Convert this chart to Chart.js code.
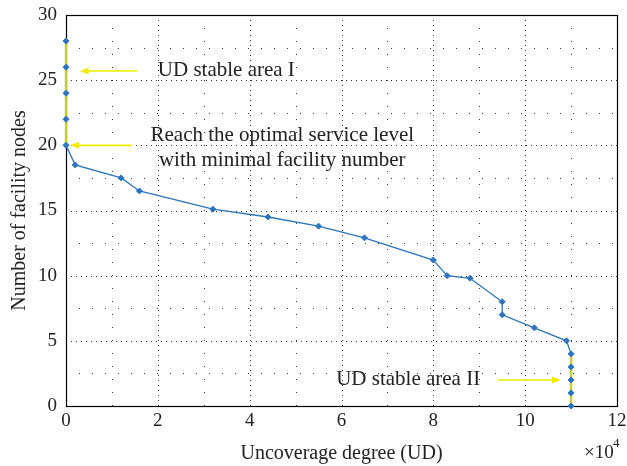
<!DOCTYPE html>
<html>
<head>
<meta charset="utf-8">
<script src="https://cdn.jsdelivr.net/npm/chart.js@4"></script>
<style>
  body { margin: 0; background: #fff; }
  #wrap { width: 627px; height: 466px; }
</style>
</head>
<body>
<div id="wrap"><canvas id="myChart" width="627" height="466"></canvas></div>
<script>
// datos (x en unidades de 10^4)
const udValues = [0, 0, 0, 0, 0, 0.2, 1.2, 1.6, 3.2, 4.4, 5.5, 6.5, 8.0, 8.3, 8.8, 9.5, 9.5, 10.2, 10.9, 11, 11, 11, 11, 11];
const nodeCounts = [28, 26, 24, 22, 20, 18.5, 17.5, 16.5, 15.1, 14.5, 13.8, 12.9, 11.2, 10, 9.8, 8, 7, 6, 5, 4, 3, 2, 1, 0];
const stableAreaI = [0, 4];   // indices de inicio/fin
const stableAreaII = [19, 23];
const xTicks = [0, 2, 4, 6, 8, 10, 12];
const yTicks = [0, 5, 10, 15, 20, 25, 30];

const labelsTexto = [
  { lines: ["UD stable area I"], x: 2.0, y: 25.75, align: "left" },
  { lines: ["Reach the optimal service level", "with minimal facility number"], x: 4.71, y: 20.75, align: "center" },
  { lines: ["UD stable area II"], x: 9.02, y: 2.0, align: "right" }
];
const flechas = [
  { from: [1.55, 25.7], to: [0.3, 25.7] },
  { from: [1.44, 20], to: [0.09, 20] },
  { from: [9.4, 2], to: [10.78, 2] }
];

const serif = "'Liberation Serif', 'DejaVu Serif', serif";
const azul = "#2c74bd";
const amarillo = "#c3cf2e";

function puntos(desde, hasta) {
  const out = [];
  for (let i = desde; i <= hasta; i++) out.push({ x: udValues[i], y: nodeCounts[i] });
  return out;
}

// grilla punteada estilo matlab + marco + anotaciones
const decoracion = {
  id: "decoracion",
  beforeDatasetsDraw(chart) {
    const { ctx, chartArea: a, scales } = chart;
    ctx.save();
    ctx.strokeStyle = "#333";
    ctx.lineWidth = 1;
    for (let v = 1; v < 12; v++) {
      const px = Math.round(scales.x.getPixelForValue(v)) + 0.5;
      ctx.setLineDash(v % 2 === 0 ? [1, 4] : [1, 12]);
      ctx.beginPath(); ctx.moveTo(px, a.bottom); ctx.lineTo(px, a.top); ctx.stroke();
    }
    for (let v = 2.5; v < 30; v += 2.5) {
      const py = Math.round(scales.y.getPixelForValue(v)) + 0.5;
      ctx.setLineDash(v % 5 === 0 ? [1, 4] : [1, 12]);
      ctx.beginPath(); ctx.moveTo(a.left, py); ctx.lineTo(a.right, py); ctx.stroke();
    }

    // marco negro, debajo de las series
    const l = Math.round(scales.x.getPixelForValue(0));
    const r = Math.round(scales.x.getPixelForValue(12));
    const t = Math.round(scales.y.getPixelForValue(30));
    const b = Math.round(scales.y.getPixelForValue(0));
    ctx.setLineDash([]);
    ctx.strokeStyle = "#000";
    ctx.lineWidth = 1.2;
    ctx.strokeRect(l + 0.5, t + 0.5, r - l, b - t);
    ctx.restore();
  },
  afterDraw(chart) {
    const { ctx, scales } = chart;
    ctx.save();
    // flechas amarillas
    ctx.strokeStyle = "#f2ea00";
    ctx.fillStyle = "#f2ea00";
    ctx.lineWidth = 1.6;
    flechas.forEach((f) => {
      const x1 = scales.x.getPixelForValue(f.from[0]);
      const y1 = scales.y.getPixelForValue(f.from[1]);
      const x2 = scales.x.getPixelForValue(f.to[0]);
      const y2 = scales.y.getPixelForValue(f.to[1]);
      const dir = Math.sign(x2 - x1);
      ctx.beginPath(); ctx.moveTo(x1, y1); ctx.lineTo(x2 - dir * 6, y2); ctx.stroke();
      ctx.beginPath();
      ctx.moveTo(x2, y2);
      ctx.lineTo(x2 - dir * 9, y2 - 3.5);
      ctx.lineTo(x2 - dir * 9, y2 + 3.5);
      ctx.closePath(); ctx.fill();
    });

    ctx.fillStyle = "#222";
    ctx.font = "21px " + serif;
    ctx.textBaseline = "middle";
    labelsTexto.forEach((tx) => {
      ctx.textAlign = tx.align;
      const x = scales.x.getPixelForValue(tx.x);
      const y = scales.y.getPixelForValue(tx.y);
      tx.lines.forEach((linea, i) => ctx.fillText(linea, x, y + i * 25));
    });

    // exponente del eje x
    ctx.textAlign = "left";
    ctx.font = "19px " + serif;
    ctx.fillText("\u00d710", 584, 453);
    ctx.font = "13px " + serif;
    ctx.fillText("4", 613, 444);
    ctx.restore();
  }
};

const config = {
  type: "scatter",
  data: {
    datasets: [
      {
        data: puntos(0, udValues.length - 1),
        showLine: true,
        borderColor: azul,
        borderWidth: 1.3,
        pointRadius: 0,
        clip: false,
        order: 3
      },
      {
        data: puntos(stableAreaI[0], stableAreaI[1]),
        showLine: true,
        borderColor: amarillo,
        borderWidth: 2.4,
        pointRadius: 0,
        clip: false,
        order: 2
      },
      {
        data: puntos(stableAreaII[0], stableAreaII[1]),
        showLine: true,
        borderColor: amarillo,
        borderWidth: 2.4,
        pointRadius: 0,
        clip: false,
        order: 2
      },
      {
        data: puntos(0, udValues.length - 1),
        showLine: false,
        pointStyle: "rectRot",
        pointRadius: 3,
        backgroundColor: azul,
        borderColor: azul,
        borderWidth: 1,
        clip: false,
        order: 1
      }
    ]
  },
  options: {
    responsive: false,
    devicePixelRatio: 1,
    animation: false,
    layout: { padding: { top: 15, right: 10, left: 0, bottom: 0 } },
    plugins: { legend: { display: false }, tooltip: { enabled: false } },
    scales: {
      x: {
        type: "linear",
        min: 0,
        max: 12,
        afterBuildTicks: (s) => { s.ticks = xTicks.map((v) => ({ value: v })); },
        afterFit: (s) => { s.height = 60; s.paddingLeft = 0; s.paddingRight = 0; },
        grid: { display: false, drawTicks: false },
        border: { display: false },
        ticks: { color: "#222", font: { family: serif, size: 19 }, padding: 4 },
        title: { display: true, text: "Uncoverage degree (UD)", color: "#222", font: { family: serif, size: 20 }, padding: { top: 2, bottom: 0 } }
      },
      y: {
        min: 0,
        max: 30,
        afterBuildTicks: (s) => { s.ticks = yTicks.map((v) => ({ value: v })); },
        afterFit: (s) => { s.width = 66; s.paddingTop = 0; s.paddingBottom = 0; },
        grid: { display: false, drawTicks: false },
        border: { display: false },
        ticks: { color: "#222", font: { family: serif, size: 19 }, padding: 9 },
        title: { display: true, text: "Number of facility nodes", color: "#222", font: { family: serif, size: 20 }, padding: { top: 8, bottom: 4 } }
      }
    }
  },
  plugins: [decoracion]
};

new Chart(document.getElementById("myChart"), config);
</script>
</body>
</html>
